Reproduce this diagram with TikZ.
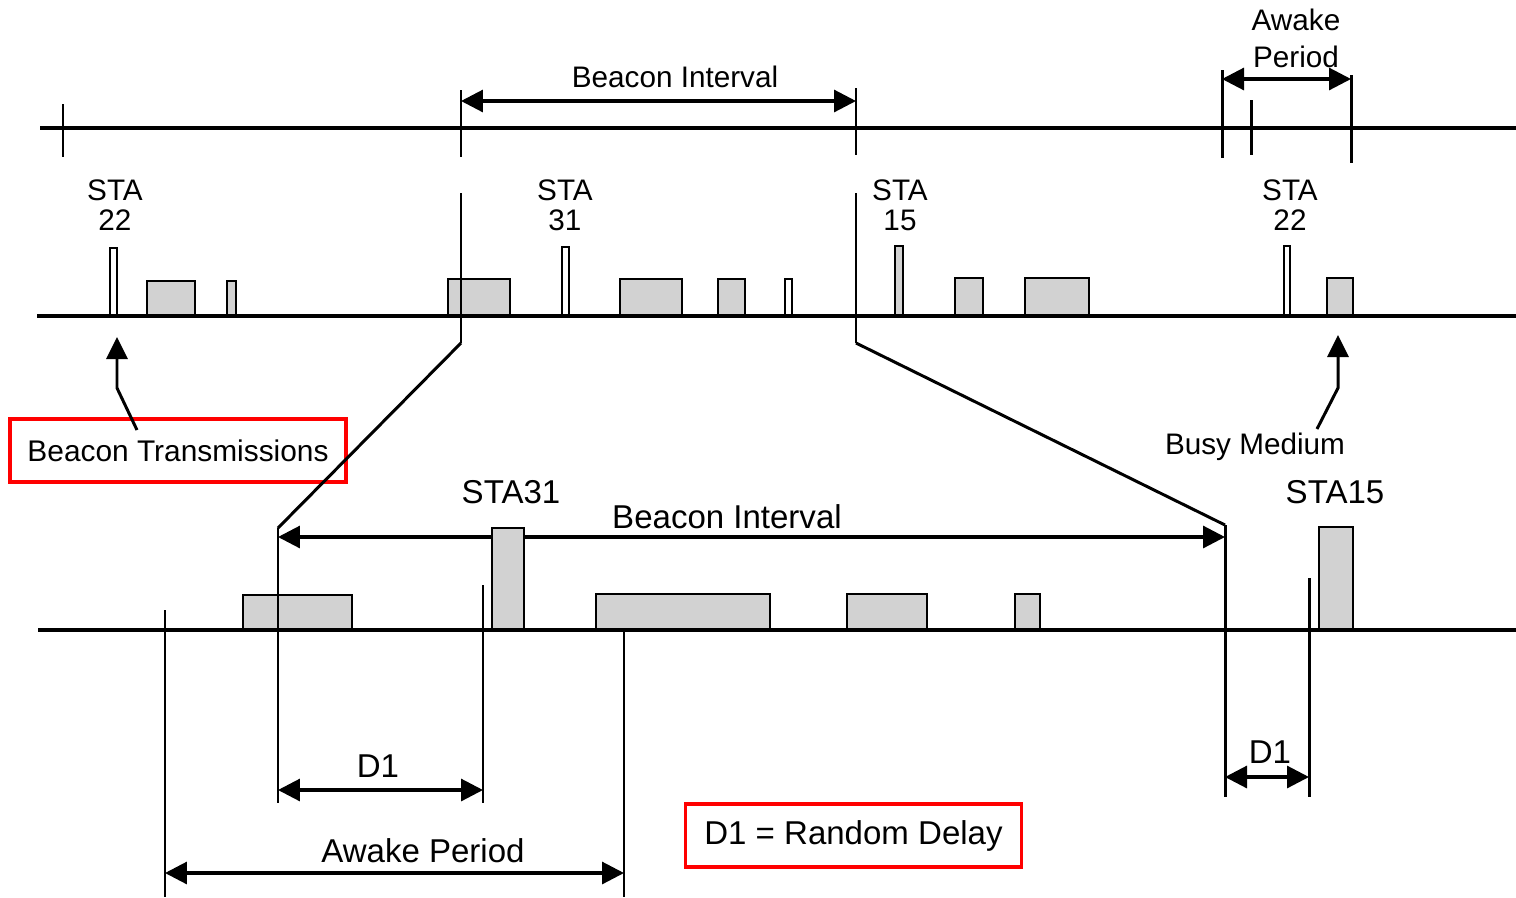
\documentclass[tikz,border=0pt]{standalone}
\usepackage{fontspec}
\setmainfont{Liberation Sans}
\usetikzlibrary{arrows.meta}
\begin{document}
\begin{tikzpicture}[x=0.02cm,y=-0.02cm,
  axis/.style={line width=2pt},
  tick/.style={line width=1.7pt},
  dim/.style={line width=1.8pt,{Triangle[length=0.44cm,width=0.44cm]}-{Triangle[length=0.44cm,width=0.44cm]}},
  ptr/.style={line width=1.7pt,-{Triangle[length=0.44cm,width=0.42cm]}},
  bar/.style={draw,line width=1.5pt,fill=gray!35},
  slim/.style={draw,line width=1.3pt,fill=white},
  sm/.style={font=\fontsize{16.9}{17}\selectfont,inner sep=0pt,align=center},
  lg/.style={font=\fontsize{18.8}{19}\selectfont,inner sep=0pt},
  redbox/.style={draw=red,line width=1.8pt,minimum width=6.72cm,minimum height=1.26cm,inner sep=0pt,font=\fontsize{17}{17}\selectfont}]
\useasboundingbox (0,0) rectangle (1516,897);

% ---------- top time line ----------
\draw[axis] (40,128) -- (1516,128);
\draw[tick] (63,104) -- (63,157);
\draw[tick] (461,90) -- (461,157);
\draw[tick] (856,88) -- (856,155);
\draw[tick] (1222,70) -- (1222,158);
\draw[tick] (1251,100) -- (1251,155);
\draw[tick] (1351,75) -- (1351,163);
\coordinate (biL) at (461,101);
\coordinate (biR) at (856,101);
\draw[dim] (biL) -- (biR);
\node[sm] (bilabel) at (675,77) {Beacon Interval};
\coordinate (apL) at (1222,79);
\coordinate (apR) at (1351,79);
\draw[dim] (apL) -- (apR);
\node[sm,font=\fontsize{16.9}{21}\selectfont] (aplabel) at (1296,38) {Awake\\Period};

% ---------- middle time line ----------
\node[sm] (sta22a) at (115,205) {STA\\22};
\node[sm] (sta31a) at (565,205) {STA\\31};
\node[sm] (sta15a) at (900,205) {STA\\15};
\node[sm] (sta22b) at (1290,205) {STA\\22};

\draw[slim] (110,316) rectangle (117,248);
\draw[bar] (147,316) rectangle (195,281);
\draw[bar] (227,316) rectangle (236,281);
\draw[bar] (448,316) rectangle (510,279);
\draw[slim] (562,316) rectangle (569,247);
\draw[bar] (620,316) rectangle (682,279);
\draw[bar] (718,316) rectangle (745,279);
\draw[slim] (785,316) rectangle (792,279);
\draw[bar] (895,316) rectangle (903,246);
\draw[bar] (955,316) rectangle (983,278);
\draw[bar] (1025,316) rectangle (1089,278);
\draw[slim] (1284,316) rectangle (1290,246);
\draw[bar] (1327,316) rectangle (1353,278);
\draw[axis] (37,316) -- (1516,316);

\coordinate (zl) at (461,343);
\coordinate (zr) at (856,343);
\draw[tick] (461,193) -- (zl);
\draw[tick] (856,193) -- (zr);

% callouts
\node[redbox] (bt) at (178,450.5) {Beacon Transmissions};
\coordinate (btTip) at (117,337);
\draw[ptr] (137,430) -- (117,388) -- (btTip);
\node[sm] (busy) at (1255,447) {Busy Medium};
\coordinate (bmTip) at (1338,335);
\draw[ptr] (1317,429) -- (1338,388) -- (bmTip);

% ---------- bottom time line ----------
\coordinate (bl) at (278,528);
\coordinate (br) at (1225,525);
\draw[tick] (zl) -- (bl);
\draw[tick] (zr) -- (br);
\coordinate (bbiL) at (278,537);
\coordinate (bbiR) at (1225,537);
\draw[dim] (bbiL) -- (bbiR);
\node[lg] (bbilabel) at (727,517) {Beacon Interval};
\node[lg] (sta31b) at (511,492) {STA31};
\node[lg] (sta15b) at (1335,492) {STA15};

\draw[bar] (243,630) rectangle (352,595);
\draw[bar] (492,630) rectangle (524,528);
\draw[bar] (596,630) rectangle (770,594);
\draw[bar] (847,630) rectangle (927,594);
\draw[bar] (1015,630) rectangle (1040,594);
\draw[bar] (1319,630) rectangle (1353,527);
\draw[axis] (38,630) -- (1516,630);

\draw[tick] (165,610) -- (165,897);
\draw[tick] (bl) -- (278,803);
\draw[tick] (483,585) -- (483,803);
\draw[tick] (624,630) -- (624,897);
\draw[tick] (br) -- (1225,797);
\draw[tick] (1309,578) -- (1309,797);

\coordinate (d1L) at (278,790);
\coordinate (d1R) at (483,790);
\draw[dim] (d1L) -- (d1R);
\node[lg] (d1a) at (378,766) {D1};
\coordinate (awL) at (165,873);
\coordinate (awR) at (624,873);
\draw[dim] (awL) -- (awR);
\node[lg] (awlabel) at (423,851) {Awake Period};
\coordinate (d2L) at (1225,777);
\coordinate (d2R) at (1309,777);
\draw[dim] (d2L) -- (d2R);
\node[lg] (d1b) at (1270,752) {D1};

\node[redbox,font=\fontsize{18.8}{19}\selectfont] (legend) at (853.5,835.5) {D1 = Random Delay};
\end{tikzpicture}
\end{document}
